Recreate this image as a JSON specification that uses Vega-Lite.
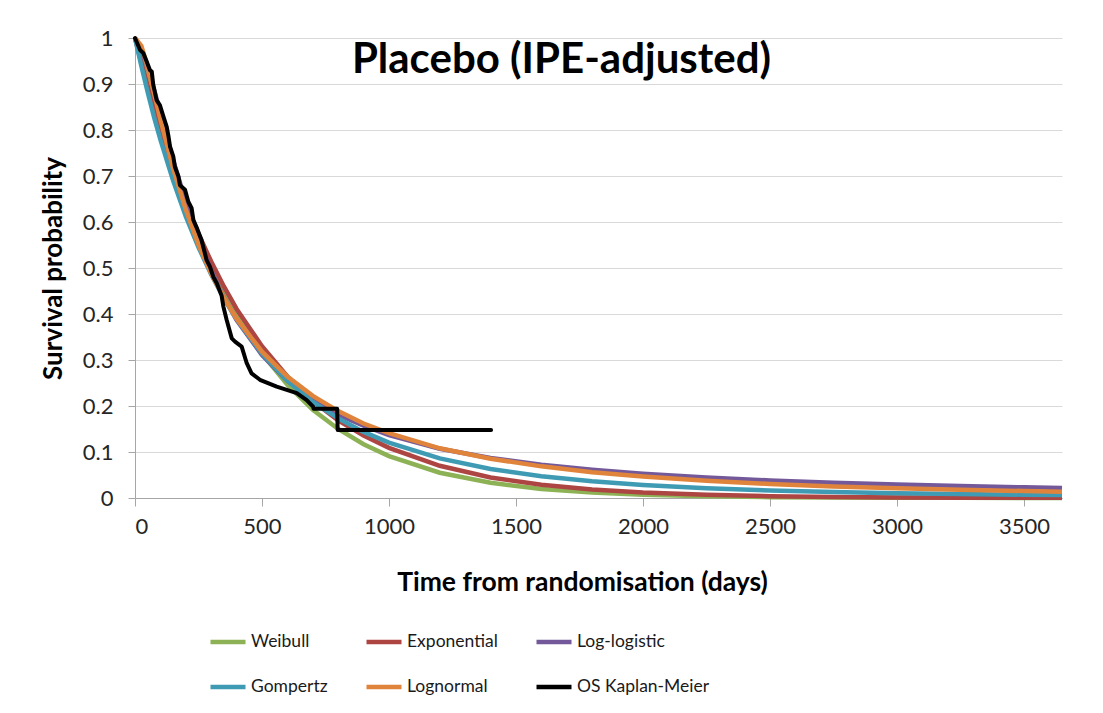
{
"$schema": "https://vega.github.io/schema/vega-lite/v6.json",
"width": 927, "height": 460,
"autosize": {"type": "none"},
"padding": {"left": 135, "top": 38, "right": 41, "bottom": 215},
"background": "white",
"config": {"font": "Lato", "view": {"stroke": null}},
"title": {"text": "Placebo (IPE-adjusted)", "font": "Lato", "fontSize": 42, "fontWeight": "bold", "color": "black", "anchor": "middle", "dx": -37, "offset": -88, "baseline": "alphabetic"},
"data": {"values": [
{"model":"Weibull","t":0,"s":1},{"model":"Weibull","t":25,"s":0.951},{"model":"Weibull","t":50,"s":0.902},{"model":"Weibull","t":75,"s":0.854},{"model":"Weibull","t":100,"s":0.808},{"model":"Weibull","t":150,"s":0.721},{"model":"Weibull","t":200,"s":0.643},{"model":"Weibull","t":250,"s":0.572},{"model":"Weibull","t":300,"s":0.508},{"model":"Weibull","t":350,"s":0.451},{"model":"Weibull","t":400,"s":0.400},{"model":"Weibull","t":500,"s":0.314},{"model":"Weibull","t":600,"s":0.246},{"model":"Weibull","t":700,"s":0.192},{"model":"Weibull","t":800,"s":0.150},{"model":"Weibull","t":900,"s":0.117},{"model":"Weibull","t":1000,"s":0.091},{"model":"Weibull","t":1200,"s":0.0549},{"model":"Weibull","t":1400,"s":0.0330},{"model":"Weibull","t":1600,"s":0.0197},{"model":"Weibull","t":1800,"s":0.0118},{"model":"Weibull","t":2000,"s":0.0070},{"model":"Weibull","t":2250,"s":0.0036},{"model":"Weibull","t":2500,"s":0.0019},{"model":"Weibull","t":2750,"s":0.0010},{"model":"Weibull","t":3000,"s":0.0005},{"model":"Weibull","t":3250,"s":0.0003},{"model":"Weibull","t":3500,"s":0.0001},{"model":"Weibull","t":3650,"s":0.0001},
{"model":"Exponential","t":0,"s":1},{"model":"Exponential","t":25,"s":0.946},{"model":"Exponential","t":50,"s":0.895},{"model":"Exponential","t":75,"s":0.847},{"model":"Exponential","t":100,"s":0.801},{"model":"Exponential","t":150,"s":0.717},{"model":"Exponential","t":200,"s":0.641},{"model":"Exponential","t":250,"s":0.574},{"model":"Exponential","t":300,"s":0.514},{"model":"Exponential","t":350,"s":0.460},{"model":"Exponential","t":400,"s":0.411},{"model":"Exponential","t":500,"s":0.330},{"model":"Exponential","t":600,"s":0.264},{"model":"Exponential","t":700,"s":0.211},{"model":"Exponential","t":800,"s":0.169},{"model":"Exponential","t":900,"s":0.136},{"model":"Exponential","t":1000,"s":0.109},{"model":"Exponential","t":1200,"s":0.070},{"model":"Exponential","t":1400,"s":0.0447},{"model":"Exponential","t":1600,"s":0.0287},{"model":"Exponential","t":1800,"s":0.0184},{"model":"Exponential","t":2000,"s":0.0118},{"model":"Exponential","t":2250,"s":0.0068},{"model":"Exponential","t":2500,"s":0.0039},{"model":"Exponential","t":2750,"s":0.0022},{"model":"Exponential","t":3000,"s":0.0013},{"model":"Exponential","t":3250,"s":0.0007},{"model":"Exponential","t":3500,"s":0.0004},{"model":"Exponential","t":3650,"s":0.0003},
{"model":"Log-logistic","t":0,"s":1},{"model":"Log-logistic","t":25,"s":0.976},{"model":"Log-logistic","t":50,"s":0.936},{"model":"Log-logistic","t":75,"s":0.888},{"model":"Log-logistic","t":100,"s":0.837},{"model":"Log-logistic","t":150,"s":0.735},{"model":"Log-logistic","t":200,"s":0.643},{"model":"Log-logistic","t":250,"s":0.562},{"model":"Log-logistic","t":300,"s":0.494},{"model":"Log-logistic","t":350,"s":0.436},{"model":"Log-logistic","t":400,"s":0.387},{"model":"Log-logistic","t":500,"s":0.311},{"model":"Log-logistic","t":600,"s":0.255},{"model":"Log-logistic","t":700,"s":0.213},{"model":"Log-logistic","t":800,"s":0.181},{"model":"Log-logistic","t":900,"s":0.157},{"model":"Log-logistic","t":1000,"s":0.137},{"model":"Log-logistic","t":1200,"s":0.107},{"model":"Log-logistic","t":1400,"s":0.087},{"model":"Log-logistic","t":1600,"s":0.0722},{"model":"Log-logistic","t":1800,"s":0.0612},{"model":"Log-logistic","t":2000,"s":0.0526},{"model":"Log-logistic","t":2250,"s":0.0444},{"model":"Log-logistic","t":2500,"s":0.0382},{"model":"Log-logistic","t":2750,"s":0.0332},{"model":"Log-logistic","t":3000,"s":0.0292},{"model":"Log-logistic","t":3250,"s":0.0260},{"model":"Log-logistic","t":3500,"s":0.0233},{"model":"Log-logistic","t":3650,"s":0.0219},
{"model":"Gompertz","t":0,"s":1},{"model":"Gompertz","t":25,"s":0.939},{"model":"Gompertz","t":50,"s":0.882},{"model":"Gompertz","t":75,"s":0.828},{"model":"Gompertz","t":100,"s":0.779},{"model":"Gompertz","t":150,"s":0.690},{"model":"Gompertz","t":200,"s":0.612},{"model":"Gompertz","t":250,"s":0.545},{"model":"Gompertz","t":300,"s":0.486},{"model":"Gompertz","t":350,"s":0.434},{"model":"Gompertz","t":400,"s":0.389},{"model":"Gompertz","t":500,"s":0.314},{"model":"Gompertz","t":600,"s":0.255},{"model":"Gompertz","t":700,"s":0.209},{"model":"Gompertz","t":800,"s":0.173},{"model":"Gompertz","t":900,"s":0.1436},{"model":"Gompertz","t":1000,"s":0.1203},{"model":"Gompertz","t":1200,"s":0.0860},{"model":"Gompertz","t":1400,"s":0.0630},{"model":"Gompertz","t":1600,"s":0.0472},{"model":"Gompertz","t":1800,"s":0.0362},{"model":"Gompertz","t":2000,"s":0.0283},{"model":"Gompertz","t":2250,"s":0.0213},{"model":"Gompertz","t":2500,"s":0.0164},{"model":"Gompertz","t":2750,"s":0.0130},{"model":"Gompertz","t":3000,"s":0.0105},{"model":"Gompertz","t":3250,"s":0.0086},{"model":"Gompertz","t":3500,"s":0.0072},{"model":"Gompertz","t":3650,"s":0.0066},
{"model":"Lognormal","t":0,"s":1},{"model":"Lognormal","t":25,"s":0.983},{"model":"Lognormal","t":50,"s":0.937},{"model":"Lognormal","t":75,"s":0.880},{"model":"Lognormal","t":100,"s":0.823},{"model":"Lognormal","t":150,"s":0.717},{"model":"Lognormal","t":200,"s":0.627},{"model":"Lognormal","t":250,"s":0.551},{"model":"Lognormal","t":300,"s":0.488},{"model":"Lognormal","t":350,"s":0.435},{"model":"Lognormal","t":400,"s":0.390},{"model":"Lognormal","t":500,"s":0.318},{"model":"Lognormal","t":600,"s":0.264},{"model":"Lognormal","t":700,"s":0.222},{"model":"Lognormal","t":800,"s":0.189},{"model":"Lognormal","t":900,"s":0.162},{"model":"Lognormal","t":1000,"s":0.141},{"model":"Lognormal","t":1200,"s":0.108},{"model":"Lognormal","t":1400,"s":0.0855},{"model":"Lognormal","t":1600,"s":0.0688},{"model":"Lognormal","t":1800,"s":0.0562},{"model":"Lognormal","t":2000,"s":0.0466},{"model":"Lognormal","t":2250,"s":0.0374},{"model":"Lognormal","t":2500,"s":0.0305},{"model":"Lognormal","t":2750,"s":0.0252},{"model":"Lognormal","t":3000,"s":0.0211},{"model":"Lognormal","t":3250,"s":0.0178},{"model":"Lognormal","t":3500,"s":0.0152},{"model":"Lognormal","t":3650,"s":0.0138},
{"model":"OS Kaplan-Meier","t":0,"s":1},{"model":"OS Kaplan-Meier","t":20,"s":0.974},{"model":"OS Kaplan-Meier","t":33,"s":0.967},{"model":"OS Kaplan-Meier","t":46,"s":0.949},{"model":"OS Kaplan-Meier","t":59,"s":0.930},{"model":"OS Kaplan-Meier","t":66,"s":0.927},{"model":"OS Kaplan-Meier","t":72,"s":0.898},{"model":"OS Kaplan-Meier","t":85,"s":0.865},{"model":"OS Kaplan-Meier","t":98,"s":0.854},{"model":"OS Kaplan-Meier","t":112,"s":0.829},{"model":"OS Kaplan-Meier","t":125,"s":0.807},{"model":"OS Kaplan-Meier","t":131,"s":0.789},{"model":"OS Kaplan-Meier","t":138,"s":0.764},{"model":"OS Kaplan-Meier","t":151,"s":0.742},{"model":"OS Kaplan-Meier","t":157,"s":0.720},{"model":"OS Kaplan-Meier","t":171,"s":0.699},{"model":"OS Kaplan-Meier","t":177,"s":0.680},{"model":"OS Kaplan-Meier","t":197,"s":0.670},{"model":"OS Kaplan-Meier","t":210,"s":0.644},{"model":"OS Kaplan-Meier","t":223,"s":0.630},{"model":"OS Kaplan-Meier","t":230,"s":0.604},{"model":"OS Kaplan-Meier","t":245,"s":0.585},{"model":"OS Kaplan-Meier","t":262,"s":0.561},{"model":"OS Kaplan-Meier","t":282,"s":0.517},{"model":"OS Kaplan-Meier","t":295,"s":0.503},{"model":"OS Kaplan-Meier","t":308,"s":0.481},{"model":"OS Kaplan-Meier","t":322,"s":0.467},{"model":"OS Kaplan-Meier","t":341,"s":0.440},{"model":"OS Kaplan-Meier","t":348,"s":0.416},{"model":"OS Kaplan-Meier","t":361,"s":0.387},{"model":"OS Kaplan-Meier","t":381,"s":0.347},{"model":"OS Kaplan-Meier","t":394,"s":0.340},{"model":"OS Kaplan-Meier","t":420,"s":0.329},{"model":"OS Kaplan-Meier","t":440,"s":0.293},{"model":"OS Kaplan-Meier","t":459,"s":0.271},{"model":"OS Kaplan-Meier","t":492,"s":0.257},{"model":"OS Kaplan-Meier","t":558,"s":0.242},{"model":"OS Kaplan-Meier","t":637,"s":0.228},{"model":"OS Kaplan-Meier","t":676,"s":0.213},{"model":"OS Kaplan-Meier","t":702,"s":0.198},{"model":"OS Kaplan-Meier","t":703,"s":0.194},{"model":"OS Kaplan-Meier","t":796,"s":0.194},{"model":"OS Kaplan-Meier","t":798,"s":0.148},{"model":"OS Kaplan-Meier","t":1402,"s":0.148}
]},
"encoding": {
  "x": {"field": "t", "type": "quantitative", "scale": {"domain": [0, 3650], "nice": false},
        "axis": {"values": [0,500,1000,1500,2000,2500,3000,3500], "format": "d", "grid": false, "domainColor": "#a6a6a6", "tickColor": "#a6a6a6", "tickSize": 8, "labelFontSize": 22, "labelColor": "#262626", "labelPadding": 10, "title": "Time from randomisation (days)", "titleFontSize": 26.5, "titleFontWeight": "bold", "titleColor": "black", "titlePadding": 32, "titleX": 447}},
  "y": {"field": "s", "type": "quantitative", "scale": {"domain": [0, 1], "nice": false},
        "axis": {"values": [0,0.1,0.2,0.3,0.4,0.5,0.6,0.7,0.8,0.9,1], "format": ".1~f", "grid": true, "gridColor": "#d9d9d9", "domainColor": "#a6a6a6", "tickColor": "#a6a6a6", "tickSize": 7, "labelFontSize": 22, "labelColor": "#262626", "labelPadding": 15, "title": "Survival probability", "titleFontSize": 26, "titleFontWeight": "bold", "titleColor": "black", "titlePadding": 16}},
  "color": {"field": "model", "type": "nominal",
    "scale": {"domain": ["Weibull","Exponential","Log-logistic","Gompertz","Lognormal","OS Kaplan-Meier"], "range": ["#8db255","#ad4642","#74599a","#3f9bb4","#e0843c","#000000"]},
    "legend": {"title": null, "orient": "none", "legendX": 73, "legendY": 584, "columns": 3, "direction": "horizontal", "gridAlign": "each", "symbolType": "stroke", "symbolSize": 1225, "symbolStrokeWidth": 4.5, "labelFontSize": 17.5, "labelColor": "#1a1a1a", "labelOffset": 3, "columnPadding": 29, "rowPadding": 16, "padding": 0}},
  "order": {"value": null}
},
"layer": [
  {"transform": [{"filter": "datum.model !== 'OS Kaplan-Meier'"}], "mark": {"type": "line", "strokeWidth": 4.5, "strokeCap": "butt"}},
  {"transform": [{"filter": "datum.model === 'OS Kaplan-Meier'"}], "mark": {"type": "line", "strokeWidth": 4, "strokeCap": "round", "strokeJoin": "round"}}
]
}
